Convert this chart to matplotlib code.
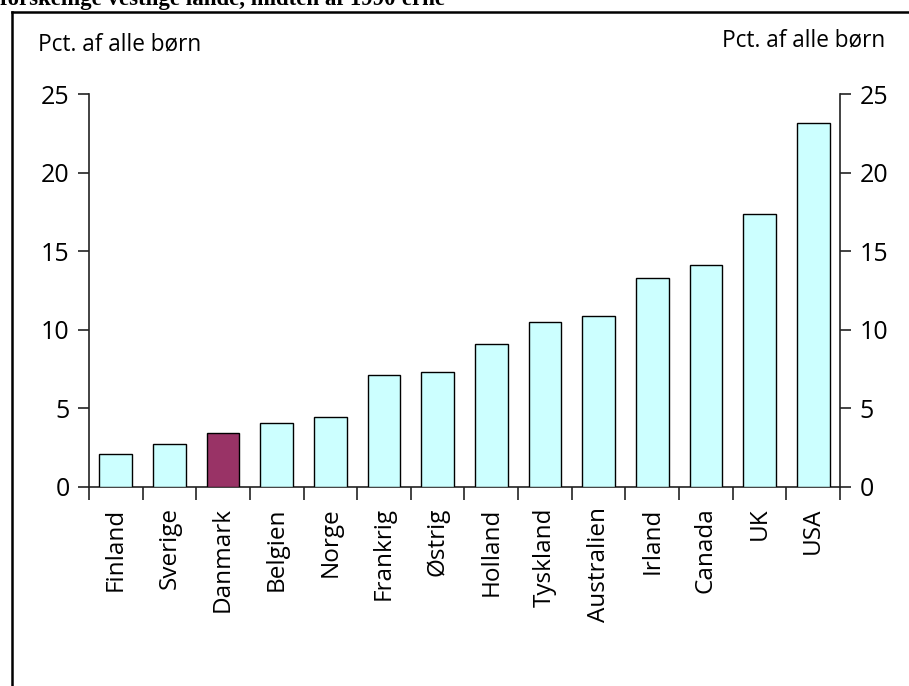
import matplotlib
matplotlib.use("Agg")
import matplotlib.pyplot as plt
from matplotlib.lines import Line2D
import numpy as np

countries = ["Finland", "Sverige", "Danmark", "Belgien", "Norge", "Frankrig", "Østrig",
             "Holland", "Tyskland", "Australien", "Irland", "Canada", "UK", "USA"]
values = [2.05, 2.7, 3.4, 4.05, 4.4, 7.1, 7.3, 9.1, 10.5, 10.9, 13.3, 14.15, 17.4, 23.2]
highlight = "Danmark"
yticks = [0, 5, 10, 15, 20, 25]
ylabel = "Pct. af alle børn"
title = "forskellige vestlige lande, midten af 1990'erne"

plt.rcParams['font.family'] = ['Open Sans', 'DejaVu Sans']

W, H = 909, 686
fig = plt.figure(figsize=(W / 100, H / 100), dpi=100)

def fx(px):
    return px / W

def fy(py):
    return 1 - py / H

ax = fig.add_axes([fx(89), fy(486.5), fx(840) - fx(89), fy(94.3) - fy(486.5)])

x = np.arange(len(countries))
colors = ["#993366" if c == highlight else "#CCFFFF" for c in countries]
ax.bar(x, values, width=0.61, color=colors, edgecolor="black", linewidth=1.0, zorder=3)

ax.set_xlim(-0.5, len(countries) - 0.5)
ax.set_ylim(0, 25)
ax.set_yticks(yticks)
ax.set_yticklabels([str(v) for v in yticks])

ax.set_xticks(x)
ax.set_xticklabels(countries, rotation=90, va="top", ha="center")
ax.set_xticks(np.arange(len(countries) + 1) - 0.5, minor=True)
ax.tick_params(axis="x", which="major", length=0, pad=15, labelsize=17.5)
ax.tick_params(axis="x", which="minor", length=9, width=1.2, direction="out", color="#222222")

ax.tick_params(axis="y", which="major", length=8, width=1.2, direction="out",
               left=True, right=True, labelleft=True, labelright=True,
               labelsize=18, pad=6, color="#222222")

for s in ["left", "right", "bottom"]:
    ax.spines[s].set_color("#222222")
    ax.spines[s].set_linewidth(1.2)
ax.spines["top"].set_visible(False)

# unit labels
fig.text(fx(38), fy(50), ylabel, fontsize=16.3, ha="left", va="baseline")
fig.text(fx(885), fy(46), ylabel, fontsize=16.3, ha="right", va="baseline")

# clipped title
fig.text(fx(0), fy(5), title, fontsize=16.5, fontweight="bold",
         family=["Liberation Serif", "DejaVu Serif"], ha="left", va="baseline")

# frame box
fig.add_artist(Line2D([fx(12), fx(12)], [fy(12), 0], transform=fig.transFigure,
                      color="black", linewidth=1.8))
fig.add_artist(Line2D([fx(12), 1], [fy(12), fy(12)], transform=fig.transFigure,
                      color="black", linewidth=1.8))

fig.savefig("out.png", dpi=100)
